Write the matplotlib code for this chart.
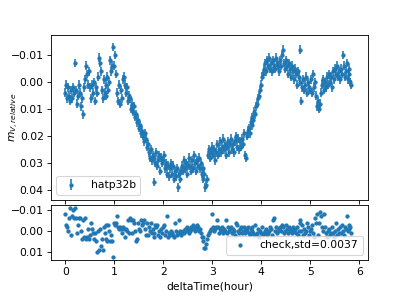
import matplotlib

matplotlib.use("Agg")

import matplotlib.pyplot as plt

# observation times (hour)
delta_time = [
    0.00, 0.02, 0.04, 0.06, 0.08, 0.10, 0.12, 0.14, 0.16, 0.18,
    0.20, 0.22, 0.24, 0.26, 0.28, 0.30, 0.32, 0.34, 0.36, 0.38,
    0.40, 0.42, 0.44, 0.46, 0.48, 0.50, 0.52, 0.54, 0.56, 0.58,
    0.60, 0.62, 0.64, 0.66, 0.68, 0.70, 0.72, 0.74, 0.76, 0.78,
    0.80, 0.82, 0.84, 0.86, 0.88, 0.90, 0.92, 0.94, 0.96, 0.98,
    1.00, 1.02, 1.04, 1.06, 1.08, 1.10, 1.12, 1.14, 1.16, 1.18,
    1.20, 1.22, 1.24, 1.26, 1.28, 1.30, 1.32, 1.34, 1.36, 1.38,
    1.40, 1.42, 1.44, 1.46, 1.48, 1.50, 1.52, 1.54, 1.56, 1.58,
    1.60, 1.62, 1.64, 1.66, 1.68, 1.70, 1.72, 1.74, 1.76, 1.78,
    1.80, 1.82, 1.84, 1.86, 1.88, 1.90, 1.92, 1.94, 1.96, 1.98,
    2.00, 2.02, 2.04, 2.06, 2.08, 2.10, 2.12, 2.14, 2.16, 2.18,
    2.20, 2.22, 2.24, 2.26, 2.28, 2.30, 2.32, 2.34, 2.36, 2.38,
    2.40, 2.42, 2.44, 2.46, 2.48, 2.50, 2.52, 2.54, 2.56, 2.58,
    2.60, 2.62, 2.64, 2.66, 2.68, 2.70, 2.72, 2.74, 2.76, 2.78,
    2.80, 2.82, 2.84, 2.86, 2.88, 2.90, 2.92, 2.94, 2.96, 2.98,
    3.00, 3.02, 3.04, 3.06, 3.08, 3.10, 3.12, 3.14, 3.16, 3.18,
    3.20, 3.22, 3.24, 3.26, 3.28, 3.30, 3.32, 3.34, 3.36, 3.38,
    3.40, 3.42, 3.44, 3.46, 3.48, 3.50, 3.52, 3.54, 3.56, 3.58,
    3.60, 3.62, 3.64, 3.66, 3.68, 3.70, 3.72, 3.74, 3.76, 3.78,
    3.80, 3.82, 3.84, 3.86, 3.88, 3.90, 3.92, 3.94, 3.96, 3.98,
    4.00, 4.02, 4.04, 4.06, 4.08, 4.10, 4.12, 4.14, 4.16, 4.18,
    4.20, 4.22, 4.24, 4.26, 4.28, 4.30, 4.32, 4.34, 4.36, 4.38,
    4.40, 4.42, 4.44, 4.46, 4.48, 4.50, 4.52, 4.54, 4.56, 4.58,
    4.60, 4.62, 4.64, 4.66, 4.68, 4.70, 4.72, 4.74, 4.76, 4.78,
    4.80, 4.82, 4.84, 4.86, 4.88, 4.90, 4.92, 4.94, 4.96, 4.98,
    5.00, 5.02, 5.04, 5.06, 5.08, 5.10, 5.12, 5.14, 5.16, 5.18,
    5.20, 5.22, 5.24, 5.26, 5.28, 5.30, 5.32, 5.34, 5.36, 5.38,
    5.40, 5.42, 5.44, 5.46, 5.48, 5.50, 5.52, 5.54, 5.56, 5.58,
    5.60, 5.62, 5.64, 5.66, 5.68, 5.70, 5.72, 5.74, 5.76, 5.78,
    5.80, 5.82, 5.84,
]

# target relative magnitude
hatp32b_mag = [
    0.004, 0.001, 0.006, 0.002, 0.005, 0.007, 0.003, 0.006, 0.002, 0.004,
    -0.007, 0.003, 0.008, 0.005, 0.001, 0.004, 0.009, 0.006, 0.012, 0.002,
    -0.001, -0.006, -0.003, 0.001, -0.004, 0.002, 0.006, 0.001, 0.004, 0.000,
    0.007, 0.002, 0.004, -0.002, -0.009, -0.007, -0.004, 0.003, 0.006, -0.001,
    0.004, 0.001, 0.005, -0.002, 0.003, 0.000, -0.008, -0.004, -0.006, -0.013,
    -0.006, -0.010, -0.003, 0.004, 0.007, 0.001, 0.008, 0.003, 0.006, -0.001,
    -0.002, 0.001, 0.004, 0.002, 0.007, 0.005, 0.006, 0.010, 0.008, 0.011,
    0.009, 0.013, 0.012, 0.015, 0.014, 0.017, 0.016, 0.019, 0.018, 0.020,
    0.022, 0.019, 0.021, 0.024, 0.023, 0.026, 0.028, 0.025, 0.029, 0.027,
    0.037, 0.028, 0.030, 0.026, 0.031, 0.029, 0.027, 0.033, 0.028, 0.030,
    0.029, 0.027, 0.032, 0.030, 0.034, 0.031, 0.035, 0.032, 0.030, 0.034,
    0.031, 0.036, 0.033, 0.035, 0.032, 0.039, 0.034, 0.036, 0.033, 0.031,
    0.033, 0.029, 0.032, 0.030, 0.034, 0.031, 0.028, 0.031, 0.033, 0.029,
    0.032, 0.027, 0.030, 0.033, 0.029, 0.031, 0.028, 0.032, 0.030, 0.034,
    0.032, 0.036, 0.034, 0.039, 0.038, 0.036, 0.027, 0.025, 0.028, 0.026,
    0.024, 0.027, 0.025, 0.029, 0.026, 0.023, 0.027, 0.025, 0.022, 0.026,
    0.024, 0.021, 0.025, 0.023, 0.027, 0.024, 0.022, 0.026, 0.023, 0.021,
    0.025, 0.023, 0.026, 0.022, 0.020, 0.024, 0.021, 0.025, 0.022, 0.024,
    0.021, 0.023, 0.019, 0.027, 0.028, 0.020, 0.018, 0.017, 0.019, 0.015,
    0.016, 0.013, 0.014, 0.011, 0.012, 0.009, 0.008, 0.006, 0.005, 0.003,
    0.001, -0.002, -0.003, -0.005, -0.007, -0.004, -0.008, -0.006, -0.009, -0.005,
    -0.007, -0.004, -0.008, -0.006, -0.005, -0.009, -0.007, -0.006, -0.004, -0.008,
    -0.006, -0.010, -0.012, -0.007, -0.005, -0.008, -0.006, -0.003, -0.007, -0.005,
    -0.002, -0.006, -0.004, -0.001, -0.005, -0.003, 0.001, -0.004, -0.002, 0.000,
    -0.012, 0.007, 0.002, -0.001, 0.003, 0.001, -0.002, 0.004, 0.000, 0.002,
    0.003, -0.001, 0.004, -0.003, 0.002, 0.000, 0.005, 0.009, 0.007, 0.010,
    0.008, 0.004, 0.001, -0.001, 0.003, 0.000, 0.002, -0.002, 0.001, -0.003,
    0.000, -0.002, 0.002, -0.004, -0.001, -0.005, -0.003, -0.006, -0.002, -0.004,
    -0.001, -0.005, -0.003, -0.010, -0.006, -0.002, -0.004, -0.007, -0.001, -0.005,
    -0.003, 0.000, 0.001,
]

hatp32b_err = 0.0016

# check star relative magnitude
check_mag = [
    -0.008, -0.003, -0.002, 0.000, -0.006, -0.011, 0.002, -0.007, -0.010, -0.006,
    -0.011, -0.006, 0.001, -0.003, -0.006, -0.006, 0.000, 0.004, -0.005, 0.003,
    -0.006, 0.004, 0.003, -0.001, 0.004, 0.002, -0.004, -0.001, 0.001, 0.004,
    0.001, 0.005, 0.010, 0.000, 0.009, -0.001, 0.007, 0.004, 0.009, -0.002,
    0.001, -0.003, 0.004, 0.005, -0.003, 0.000, 0.005, 0.002, 0.005, 0.0126,
    -0.004, -0.003, -0.004, -0.007, -0.002, -0.001, -0.002, -0.001, 0.001, -0.002,
    -0.001, 0.003, -0.001, 0.000, -0.005, 0.001, -0.006, -0.005, 0.001, -0.005,
    -0.004, 0.000, 0.005, 0.004, -0.004, -0.001, 0.000, -0.005, -0.003, -0.004,
    -0.005, -0.001, 0.002, -0.004, 0.002, -0.002, 0.000, -0.004, 0.001, -0.001,
    0.003, 0.001, -0.003, -0.002, -0.003, 0.002, 0.000, 0.003, -0.001, 0.001,
    -0.002, -0.003, 0.002, 0.000, -0.007, 0.003, 0.001, 0.002, 0.000, 0.001,
    0.002, 0.003, -0.004, 0.000, 0.002, 0.001, -0.005, 0.000, 0.002, 0.001,
    0.000, 0.001, -0.001, 0.000, -0.002, -0.001, 0.001, 0.000, -0.002, -0.001,
    -0.003, -0.002, 0.000, -0.001, -0.003, -0.002, 0.000, -0.001, 0.001, 0.003,
    0.005, 0.003, 0.008, 0.008, 0.006, 0.004, 0.002, 0.001, 0.000, -0.001,
    -0.008, -0.002, 0.000, -0.001, -0.002, -0.005, -0.002, 0.001, -0.001, 0.000,
    -0.002, 0.001, -0.001, 0.000, -0.005, 0.001, -0.002, 0.000, -0.001, -0.002,
    0.001, -0.001, 0.000, 0.002, -0.004, -0.003, 0.000, 0.001, -0.001, -0.002,
    0.001, 0.000, -0.002, 0.001, -0.001, 0.000, -0.002, 0.001, 0.002, -0.001,
    0.000, -0.002, 0.001, 0.002, -0.003, 0.002, 0.001, -0.001, 0.003, 0.000,
    0.001, -0.002, 0.002, 0.001, 0.000, -0.001, 0.002, 0.001, 0.000, -0.002,
    -0.001, 0.002, -0.005, -0.006, 0.000, -0.002, 0.001, 0.000, -0.001, -0.002,
    0.000, -0.003, -0.002, 0.001, 0.000, -0.003, -0.001, 0.001, -0.002, 0.000,
    -0.001, 0.001, -0.002, 0.000, -0.001, 0.001, -0.002, 0.002, 0.000, -0.004,
    -0.005, 0.000, -0.003, 0.002, -0.001, 0.001, 0.000, -0.004, -0.002, 0.002,
    0.000, -0.001, -0.003, 0.001, 0.003, -0.006, -0.004, -0.008, 0.002, -0.004,
    -0.009, -0.007, -0.002, 0.000, -0.008, -0.002, 0.001, 0.003, 0.000, -0.001,
    0.002, 0.001, -0.002, 0.001, 0.003, 0.000, -0.004, 0.002, -0.001, 0.001,
    -0.002, 0.001, -0.003, 0.000, 0.002, -0.002, -0.001, -0.007, 0.000, -0.003,
    -0.001, -0.002, 0.001,
]

check_label = "check,std=0.0037"

fig, (ax_lc, ax_check) = plt.subplots(
    2,
    1,
    sharex=True,
    figsize=(409 / 77, 292 / 77),
    dpi=77,
    gridspec_kw={
        "height_ratios": [3, 1],
        "hspace": 0.045,
    },
)

ax_lc.errorbar(
    delta_time,
    hatp32b_mag,
    yerr=hatp32b_err,
    fmt=".",
    label="hatp32b",
)

ax_lc.set_ylim(0.0437, -0.0174)

ax_lc.set_ylabel("$m_{V,relative}$")

# label sits tight against the tick labels, as in the original
ax_lc.yaxis.set_label_coords(-0.095, 0.5)

ax_lc.legend(loc="lower left")

ax_check.plot(
    delta_time,
    check_mag,
    ".",
    label=check_label,
)

ax_check.set_ylim(0.0138, -0.0124)

ax_check.set_xlim(-0.29, 6.18)

ax_check.set_xlabel("deltaTime(hour)")

ax_check.legend(loc="lower right")

fig.savefig("out.png", dpi=77)
